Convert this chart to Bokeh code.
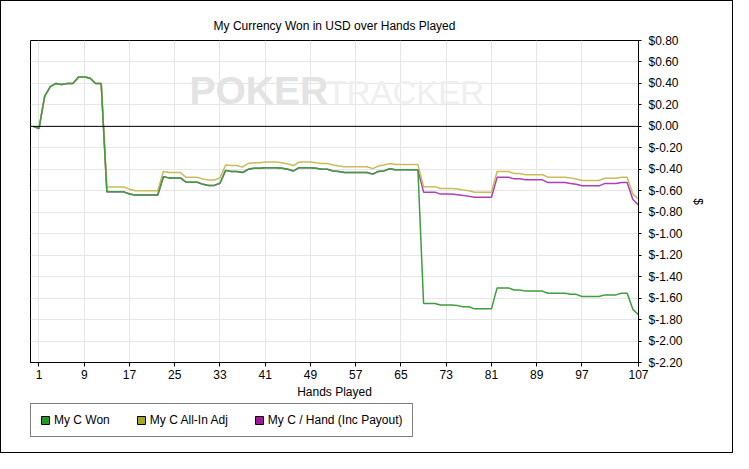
from bokeh.plotting import figure
from bokeh.layouts import column
from bokeh.models import (FixedTicker, PrintfTickFormatter, Span, Legend, LegendItem,
                          Label, Range1d)
from bokeh.embed import file_html
from bokeh.resources import INLINE

# ---------------- data ----------------
hands = list(range(0, 108))

won = [0.00, -0.02, 0.28, 0.37, 0.40, 0.39, 0.40, 0.40, 0.46, 0.46,
       0.45, 0.40, 0.40, -0.61, -0.61, -0.61, -0.61, -0.63, -0.64, -0.64,
       -0.64, -0.64, -0.64, -0.47, -0.48, -0.48, -0.48, -0.52, -0.52, -0.52,
       -0.54, -0.55, -0.55, -0.53, -0.41, -0.42, -0.42, -0.43, -0.40, -0.39,
       -0.39, -0.385, -0.385, -0.385, -0.39, -0.40, -0.415, -0.385, -0.385, -0.385,
       -0.39, -0.40, -0.40, -0.415, -0.42, -0.43, -0.43, -0.43, -0.43, -0.43,
       -0.445, -0.42, -0.415, -0.395, -0.405, -0.405, -0.405, -0.405, -0.405, -1.65,
       -1.65, -1.65, -1.665, -1.665, -1.665, -1.67, -1.68, -1.68, -1.70, -1.70,
       -1.70, -1.70, -1.505, -1.505, -1.505, -1.525, -1.525, -1.535, -1.535, -1.535,
       -1.535, -1.555, -1.555, -1.555, -1.555, -1.565, -1.565, -1.585, -1.585, -1.585,
       -1.585, -1.57, -1.57, -1.57, -1.555, -1.555, -1.705, -1.755]

allin_adj = [0.00, -0.02, 0.28, 0.37, 0.40, 0.39, 0.40, 0.40, 0.46, 0.46,
             0.45, 0.40, 0.40, -0.565, -0.565, -0.565, -0.565, -0.585, -0.60, -0.60,
             -0.60, -0.60, -0.60, -0.42, -0.43, -0.43, -0.43, -0.475, -0.475, -0.475,
             -0.49, -0.50, -0.50, -0.48, -0.36, -0.365, -0.365, -0.38, -0.345, -0.34,
             -0.34, -0.332, -0.332, -0.332, -0.34, -0.35, -0.365, -0.332, -0.332, -0.332,
             -0.34, -0.347, -0.347, -0.36, -0.37, -0.376, -0.376, -0.376, -0.376, -0.376,
             -0.394, -0.37, -0.36, -0.347, -0.356, -0.356, -0.356, -0.356, -0.356, -0.563,
             -0.563, -0.563, -0.578, -0.578, -0.578, -0.584, -0.593, -0.60, -0.613, -0.613,
             -0.613, -0.613, -0.42, -0.42, -0.42, -0.44, -0.44, -0.45, -0.45, -0.45,
             -0.45, -0.474, -0.474, -0.474, -0.474, -0.48, -0.49, -0.504, -0.504, -0.504,
             -0.504, -0.483, -0.483, -0.483, -0.474, -0.474, -0.631, -0.675]

per_hand = [0.00, -0.02, 0.28, 0.37, 0.40, 0.39, 0.40, 0.40, 0.46, 0.46,
            0.45, 0.40, 0.40, -0.61, -0.61, -0.61, -0.61, -0.63, -0.64, -0.64,
            -0.64, -0.64, -0.64, -0.47, -0.48, -0.48, -0.48, -0.52, -0.52, -0.52,
            -0.54, -0.55, -0.55, -0.53, -0.41, -0.42, -0.42, -0.43, -0.40, -0.39,
            -0.39, -0.385, -0.385, -0.385, -0.39, -0.40, -0.415, -0.385, -0.385, -0.385,
            -0.39, -0.40, -0.40, -0.415, -0.42, -0.43, -0.43, -0.43, -0.43, -0.43,
            -0.445, -0.42, -0.415, -0.395, -0.405, -0.405, -0.405, -0.405, -0.405, -0.613,
            -0.613, -0.613, -0.631, -0.631, -0.631, -0.637, -0.643, -0.652, -0.66, -0.66,
            -0.66, -0.66, -0.474, -0.474, -0.474, -0.489, -0.489, -0.498, -0.498, -0.498,
            -0.498, -0.524, -0.524, -0.524, -0.524, -0.533, -0.54, -0.554, -0.554, -0.554,
            -0.554, -0.533, -0.533, -0.533, -0.524, -0.524, -0.682, -0.732]

x_ticks = [1, 9, 17, 25, 33, 41, 49, 57, 65, 73, 81, 89, 97, 107]
y_ticks = [-2.2, -2.0, -1.8, -1.6, -1.4, -1.2, -1.0, -0.8, -0.6, -0.4,
           -0.2, 0.0, 0.2, 0.4, 0.6, 0.8]
series_names = ["My C Won", "My C All-In Adj", "My C / Hand (Inc Payout)"]
line_colors = ["#3c9e3c", "#c9bb5a", "#b23cb8"]
swatch_colors = ["#1f9c1f", "#a6a620", "#a0189a"]

FONT = "Liberation Sans"
W = 731

p = figure(width=W, height=401, output_backend="svg", toolbar_location=None,
           x_range=Range1d(-0.5, 107), y_range=Range1d(-2.2, 0.8),
           y_axis_location="right",
           min_border_left=29, min_border_top=39, min_border_right=94,
           min_border_bottom=40,
           title="My Currency Won in USD over Hands Played")
p.background_fill_color = "white"
p.border_fill_color = "white"
p.outline_line_color = "black"
p.outline_line_width = 1

p.title.align = "center"
p.title.text_font = FONT
p.title.text_font_size = "12px"
p.title.text_font_style = "normal"
p.title.text_color = "black"
p.title.standoff = 16

# axes
xa = p.xaxis[0]
xa.ticker = FixedTicker(ticks=x_ticks)
xa.axis_label = "Hands Played"
ya = p.yaxis[0]
ya.ticker = FixedTicker(ticks=y_ticks)
ya.formatter = PrintfTickFormatter(format="$%.2f")
ya.axis_label = "$"
for ax in (xa, ya):
    ax.axis_line_color = "black"
    ax.major_tick_line_color = "black"
    ax.minor_tick_line_color = None
    ax.major_tick_in = 0
    ax.major_label_text_font = FONT
    ax.major_label_text_font_size = "12px"
    ax.major_label_text_color = "black"
    ax.axis_label_text_font = FONT
    ax.axis_label_text_font_size = "12px"
    ax.axis_label_text_font_style = "normal"
    ax.axis_label_text_color = "black"
xa.major_tick_out = 4
xa.major_label_standoff = 3
xa.axis_label_standoff = 3
ya.major_tick_out = 3
ya.major_label_standoff = 7
ya.axis_label_standoff = 5

p.xgrid.ticker = FixedTicker(ticks=x_ticks)
p.ygrid.ticker = FixedTicker(ticks=y_ticks)
p.xgrid.grid_line_color = "#e6e6e6"
p.ygrid.grid_line_color = "#e6e6e6"

# watermark
p.add_layout(Label(x=159, y=251, x_units="screen", y_units="screen", text="POKER",
                   text_font=FONT, text_font_size="39px",
                   text_font_style="bold", text_color="#e3e3e3"))
p.add_layout(Label(x=296, y=252, x_units="screen", y_units="screen", text="TRACKER",
                   text_font=FONT, text_font_size="33px",
                   text_color="#efefef"))

p.add_layout(Span(location=0, dimension="width", line_color="black", line_width=1))

# lines (purple under, then yellow, then green on top)
p.line(hands, per_hand, line_color=line_colors[2], line_width=1.5)
p.line(hands, allin_adj, line_color=line_colors[1], line_width=1.5)
p.line(hands, won, line_color=line_colors[0], line_width=1.5)

# legend strip below the chart
lg = figure(width=W, height=50, output_backend="svg", toolbar_location=None,
            x_range=Range1d(0, 1), y_range=Range1d(0, 1),
            x_axis_type=None, y_axis_type=None,
            min_border_left=29, min_border_top=1, min_border_right=0,
            min_border_bottom=0)
lg.outline_line_color = None
lg.background_fill_color = "white"
lg.border_fill_color = "white"
for g in lg.grid:
    g.visible = False

items = []
for name, col in zip(series_names, swatch_colors):
    r = lg.quad(left=[float("nan")], right=[float("nan")], top=[float("nan")],
                bottom=[float("nan")], fill_color=col, line_color="black",
                line_width=1)
    items.append(LegendItem(label=name, renderers=[r]))

legend = Legend(items=items, orientation="horizontal", location="top_left",
                border_line_color="black", border_line_width=1,
                background_fill_color="white", background_fill_alpha=1,
                padding=9, spacing=26, label_standoff=4,
                glyph_width=10, glyph_height=10, margin=0,
                label_text_font=FONT, label_text_font_size="12px",
                label_text_color="black", label_height=13)
lg.add_layout(legend)

page = column(p, lg, spacing=0)
page.styles = {"border": "1px solid black"}

open("out.html", "w").write(file_html(page, INLINE))
